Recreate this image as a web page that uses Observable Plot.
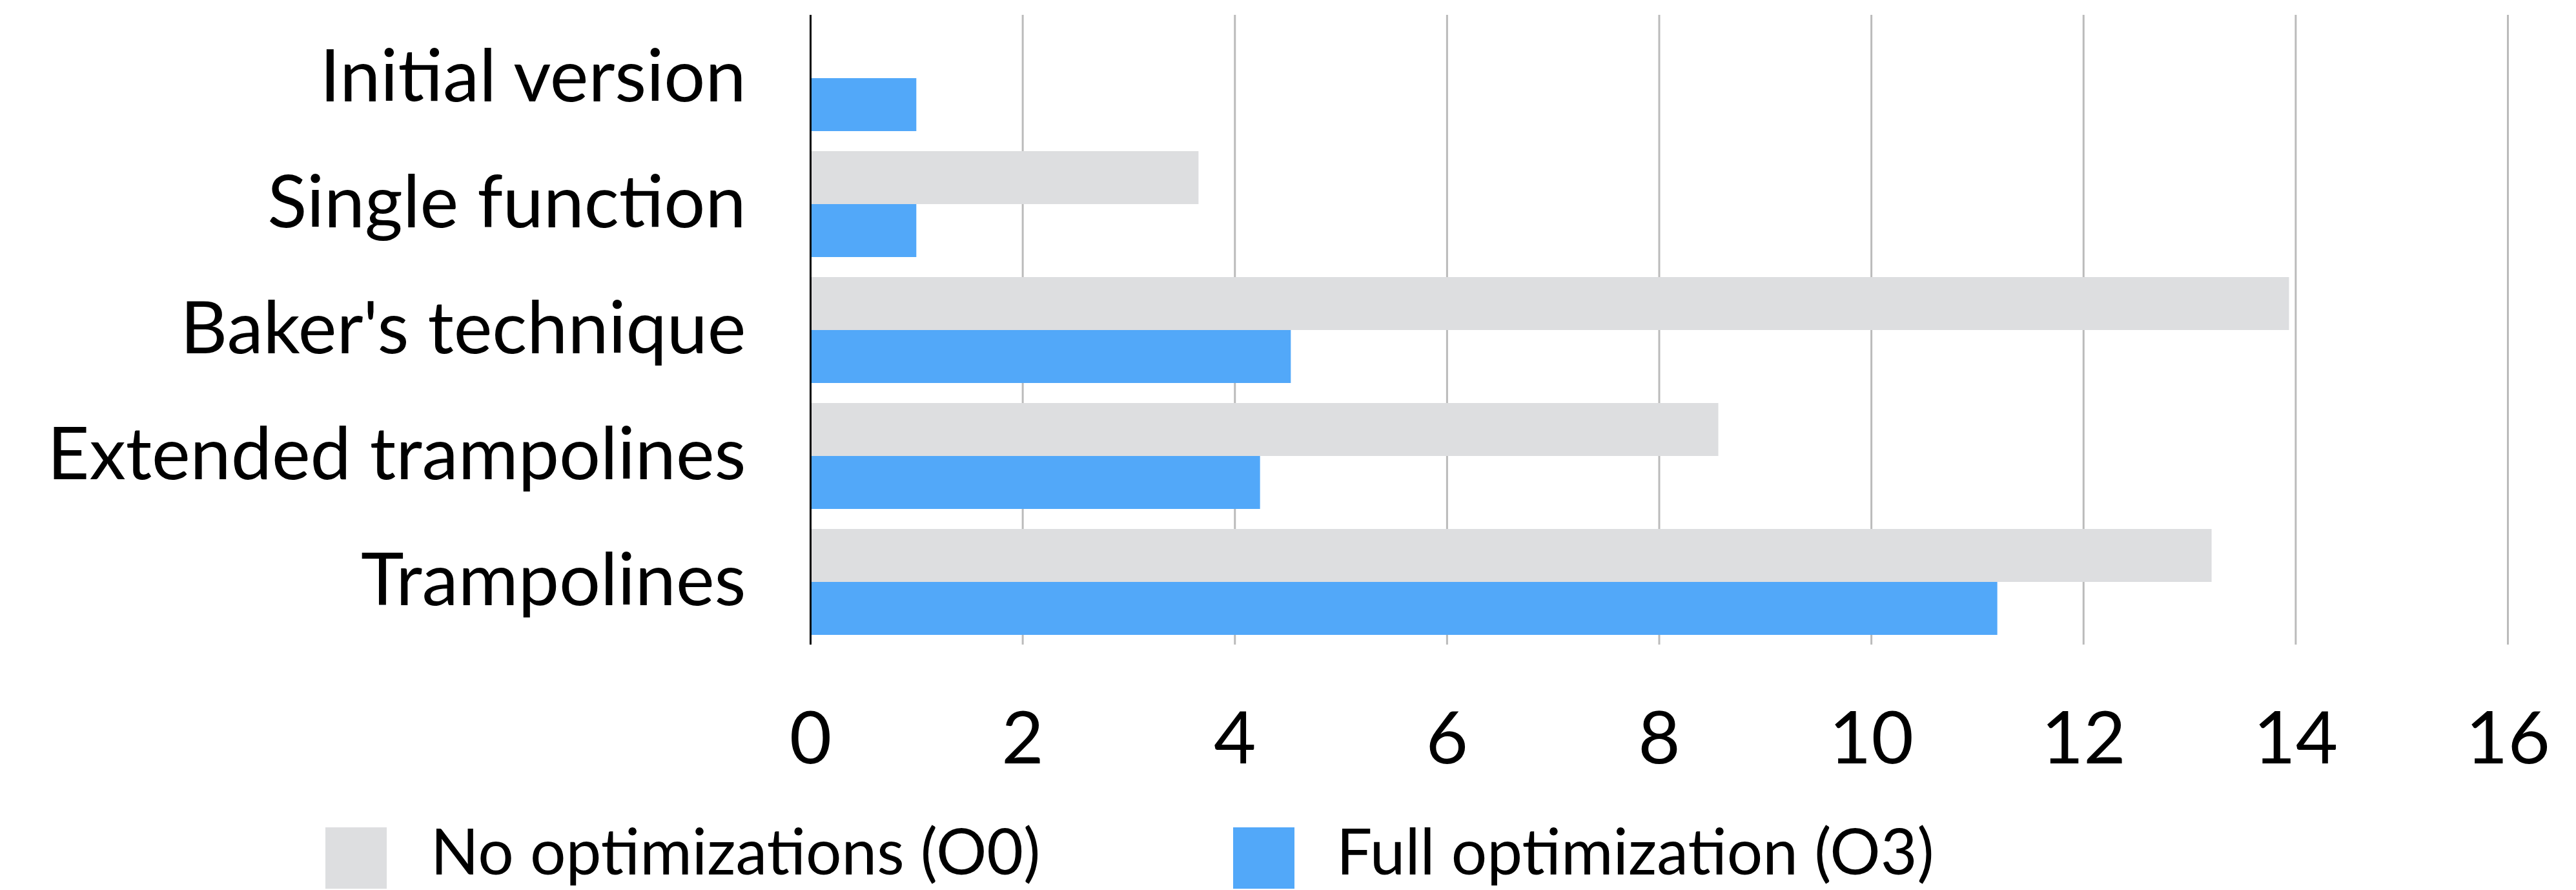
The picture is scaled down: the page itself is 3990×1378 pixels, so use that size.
<!DOCTYPE html>
<html><head><meta charset="utf-8">
<script src="https://cdn.jsdelivr.net/npm/d3@7"></script>
<script src="https://cdn.jsdelivr.net/npm/@observablehq/plot@0.6"></script>
<style>
html,body{margin:0;padding:0;background:#fff;}
body{font-family:Lato,"Noto Sans",sans-serif;color:#000;width:3990px;height:1378px;overflow:hidden;}
#legend{position:relative;height:128px;width:3990px;}
.sw{position:absolute;top:31px;width:95px;height:95px;}
.lt{position:absolute;top:17px;font-size:98px;line-height:98px;white-space:nowrap;}
</style></head>
<body>
<div id="chart"></div>
<div id="legend"></div>
<script>
const categories = ["Initial version", "Single function", "Baker's technique", "Extended trampolines", "Trampolines"];
const seriesKeys = ["O0", "O3"];
const seriesNames = ["No optimizations (O0)", "Full optimization (O3)"];
const valuesO0 = [null, 3.66, 13.94, 8.56, 13.21];
const valuesO3 = [1.0, 1.0, 4.53, 4.24, 11.19];
const xTicks = [0, 2, 4, 6, 8, 10, 12, 14, 16];
const colors = ["#DDDEE0", "#52A8F9"];

const rows = [];
categories.forEach((c, i) => {
  if (valuesO0[i] != null) rows.push({category: c, series: "O0", value: valuesO0[i]});
  if (valuesO3[i] != null) rows.push({category: c, series: "O3", value: valuesO3[i]});
});

const chart = Plot.plot({
  width: 3990,
  height: 1250,
  marginLeft: 1255,
  marginRight: 106,
  marginTop: 22,
  marginBottom: 252,
  style: {fontFamily: "Lato, 'Noto Sans', sans-serif", fontSize: "113px", background: "#fff", color: "#000"},
  x: {domain: [0, 16], ticks: xTicks, tickSize: 0, tickPadding: 103, label: null, tickFormat: d => String(d)},
  fy: {domain: categories, padding: 0, label: null, axis: "left", tickSize: 0, tickPadding: 100},
  y: {domain: seriesKeys, axis: null, paddingInner: 0, paddingOuter: 0.186},
  color: {domain: seriesKeys, range: colors},
  marks: [
    Plot.ruleX(xTicks.filter(d => d > 0), {stroke: "#BBBBBB", strokeWidth: 3}),
    Plot.barX(rows, {x: "value", y: "series", fy: "category", fill: "series"}),
    Plot.ruleX([0], {stroke: "#000", strokeWidth: 3})
  ]
});
document.getElementById("chart").appendChild(chart);

const legend = document.getElementById("legend");
const swX = [504, 1910];
const txX = [667, 2070];
seriesKeys.forEach((k, i) => {
  const s = document.createElement("div");
  s.className = "sw";
  s.style.left = swX[i] + "px";
  s.style.background = colors[i];
  legend.appendChild(s);
  const t = document.createElement("div");
  t.className = "lt";
  t.style.left = txX[i] + "px";
  t.textContent = seriesNames[i];
  legend.appendChild(t);
});
</script>
</body></html>
